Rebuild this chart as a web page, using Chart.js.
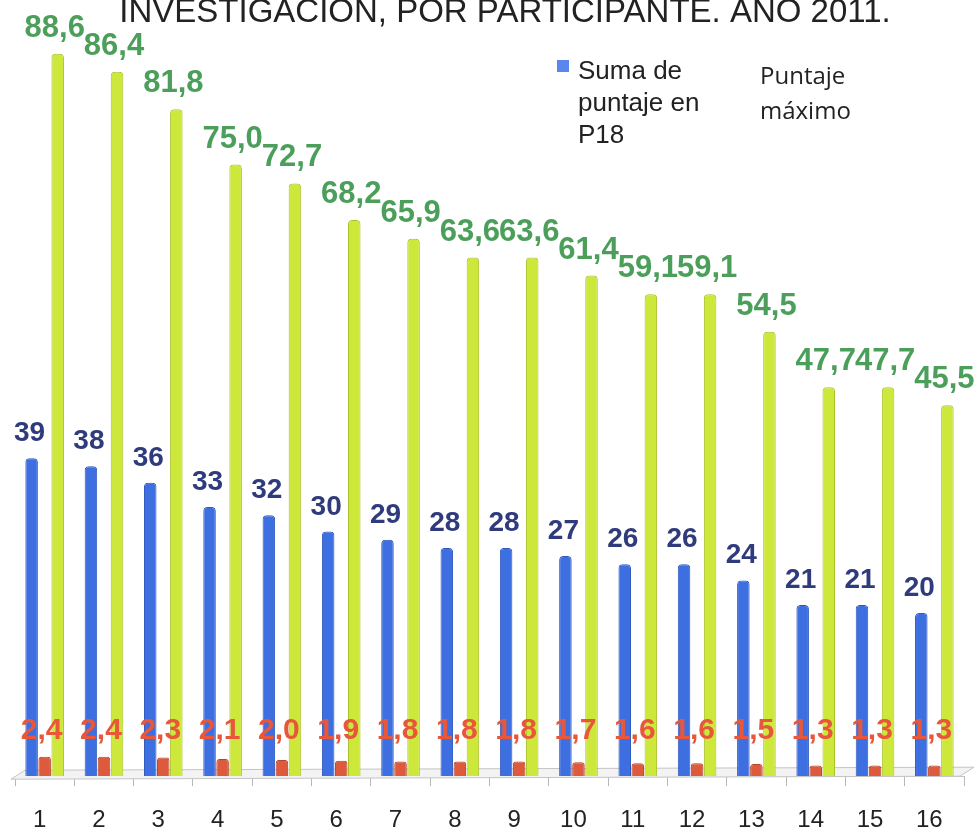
<!DOCTYPE html>
<html>
<head>
<meta charset="utf-8">
<script src="https://cdn.jsdelivr.net/npm/chart.js@4/dist/chart.umd.min.js"></script>
<style>
  html, body { margin: 0; padding: 0; background: #fff; }
  #wrap { width: 979px; height: 834px; position: relative; }
</style>
</head>
<body>
<div id="wrap"><canvas id="puntajeChart"></canvas></div>
<script>
const participantes = ['1', '2', '3', '4', '5', '6', '7', '8', '9', '10', '11', '12', '13', '14', '15', '16'];
const sumaP18 = [39, 38, 36, 33, 32, 30, 29, 28, 28, 27, 26, 26, 24, 21, 21, 20];
const promedio = [2.4, 2.4, 2.3, 2.1, 2.0, 1.9, 1.8, 1.8, 1.8, 1.7, 1.6, 1.6, 1.5, 1.3, 1.3, 1.3];
const puntajeMaximo = [88.6, 86.4, 81.8, 75.0, 72.7, 68.2, 65.9, 63.6, 63.6, 61.4, 59.1, 59.1, 54.5, 47.7, 47.7, 45.5];

const titulo = 'INVESTIGACIÓN, POR PARTICIPANTE. AÑO 2011.';

function coma(v, dec) {
  return v.toFixed(dec).replace('.', ',');
}

// light 3D floor under the bars
const floorPlugin = {
  id: 'floor',
  beforeDatasetsDraw(chart) {
    const a = chart.chartArea;
    const ctx = chart.ctx;
    ctx.save();
    ctx.beginPath();
    ctx.moveTo(a.left - 4, a.bottom + 3);
    ctx.lineTo(a.left + 10, a.bottom - 6);
    ctx.lineTo(a.right + 10, a.bottom - 9);
    ctx.lineTo(a.right - 4, a.bottom);
    ctx.closePath();
    ctx.fillStyle = '#f3f3f3';
    ctx.fill();
    ctx.strokeStyle = '#c4c4c4';
    ctx.lineWidth = 1;
    ctx.stroke();
    ctx.restore();
  }
};

// value labels, title and legend texts
const textPlugin = {
  id: 'texts',
  afterDatasetsDraw(chart) {
    const ctx = chart.ctx;
    const base = chart.scales.y.getPixelForValue(0);
    ctx.save();
    ctx.textAlign = 'center';
    ctx.textBaseline = 'alphabetic';

    chart.getDatasetMeta(0).data.forEach((bar, i) => {
      ctx.font = 'bold 28px "Liberation Sans", Arial, sans-serif';
      ctx.fillStyle = '#2f3b7c';
      ctx.fillText(String(sumaP18[i]), bar.x - 2, bar.y - 17);
    });
    chart.getDatasetMeta(1).data.forEach((bar, i) => {
      ctx.font = 'bold 30px "Liberation Sans", Arial, sans-serif';
      ctx.fillStyle = '#e8573a';
      ctx.fillText(coma(promedio[i], 1), bar.x - 3, base - 37);
    });
    chart.getDatasetMeta(2).data.forEach((bar, i) => {
      ctx.font = 'bold 31px "Liberation Sans", Arial, sans-serif';
      ctx.fillStyle = '#4c9f5b';
      ctx.fillText(coma(puntajeMaximo[i], 1), bar.x - 3, bar.y - 17);
    });

    // title, cut at the top like the original
    ctx.font = '33px "Liberation Sans", Arial, sans-serif';
    ctx.fillStyle = '#222';
    ctx.fillText(titulo, 505, 22);

    // legend
    ctx.textAlign = 'left';
    ctx.fillStyle = '#5b86ee';
    ctx.fillRect(557, 60, 12, 12);
    ctx.fillStyle = '#222';
    ctx.font = '26px "Liberation Sans", Arial, sans-serif';
    ['Suma de', 'puntaje en', 'P18'].forEach((t, k) => ctx.fillText(t, 578, 79 + k * 32));
    ctx.fillStyle = '#222';
    ctx.font = '24px "Open Sans", sans-serif';
    ['Puntaje', 'máximo'].forEach((t, k) => ctx.fillText(t, 760, 84 + k * 35));
    ctx.restore();
  }
};

new Chart(document.getElementById('puntajeChart'), {
  type: 'bar',
  data: {
    labels: participantes,
    datasets: [
      {
        label: 'Suma de puntaje en P18',
        data: sumaP18,
        backgroundColor: '#3d6fe0',
        borderColor: '#2d57bd',
        borderWidth: 1,
        borderRadius: 4
      },
      {
        label: 'Promedio',
        data: promedio,
        backgroundColor: '#dd5a3c',
        borderColor: '#b8442c',
        borderWidth: 1,
        borderRadius: 3
      },
      {
        label: 'Puntaje máximo',
        data: puntajeMaximo,
        backgroundColor: '#cde83a',
        borderColor: '#a9c22c',
        borderWidth: 1,
        borderRadius: 4
      }
    ]
  },
  options: {
    responsive: true,
    maintainAspectRatio: false,
    animation: false,
    categoryPercentage: 0.66,
    barPercentage: 0.96,
    layout: { padding: { top: 26, left: 15, right: 15, bottom: -21 } },
    plugins: {
      legend: { display: false },
      title: { display: false },
      tooltip: { enabled: false }
    },
    scales: {
      x: {
        grid: { drawOnChartArea: false, drawTicks: true, tickLength: 10, color: '#b8b8b8' },
        border: { display: true, color: '#c4c4c4' },
        ticks: {
          color: '#222',
          padding: 20,
          labelOffset: -5,
          font: { family: '"Liberation Sans", Arial, sans-serif', size: 24 }
        }
      },
      y: {
        display: false,
        min: 0,
        max: 92
      }
    }
  },
  plugins: [floorPlugin, textPlugin]
});
</script>
</body>
</html>
